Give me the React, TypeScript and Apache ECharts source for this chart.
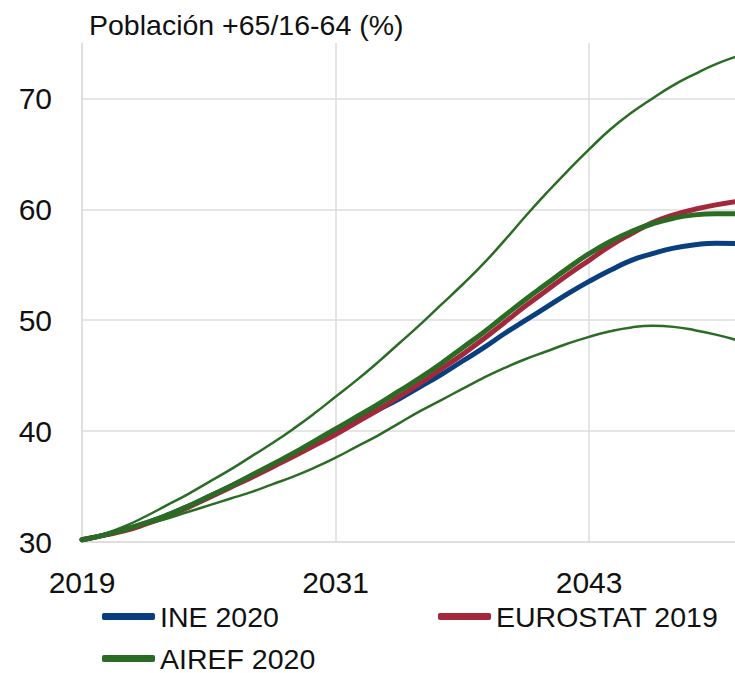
import React, { useEffect, useRef } from "react";
import * as echarts from "echarts";

const years = [
  "2019","2020","2021","2022","2023","2024","2025","2026","2027","2028","2029","2030","2031","2032","2033","2034",
  "2035","2036","2037","2038","2039","2040","2041","2042","2043","2044","2045","2046","2047","2048","2049","2050",
];

const ine2020 = [
  30.2, 30.6, 31.1, 31.7, 32.4, 33.2, 34.1, 35.0, 35.95, 36.9, 37.9, 38.9, 39.9, 40.9, 41.9, 42.9,
  44.0, 45.1, 46.3, 47.5, 48.8, 50.0, 51.2, 52.4, 53.5, 54.5, 55.4, 56.0, 56.5, 56.8, 56.95, 56.9,
];

const eurostat2019 = [
  30.2, 30.6, 31.0, 31.6, 32.3, 33.1, 34.0, 34.9, 35.8, 36.75, 37.7, 38.7, 39.7, 40.8, 41.9, 43.1,
  44.3, 45.6, 46.9, 48.3, 49.8, 51.3, 52.7, 54.1, 55.4, 56.7, 57.8, 58.8, 59.5, 60.0, 60.4, 60.7,
];

const airef2020 = [
  30.2, 30.6, 31.1, 31.7, 32.4, 33.2, 34.1, 35.0, 36.0, 37.0, 38.0, 39.1, 40.2, 41.3, 42.4, 43.6,
  44.8, 46.1, 47.5, 48.9, 50.4, 51.9, 53.3, 54.7, 56.0, 57.1, 58.0, 58.7, 59.2, 59.5, 59.6, 59.6,
];

const airefHigh = [
  30.2, 30.7, 31.4, 32.3, 33.3, 34.3, 35.4, 36.5, 37.7, 38.9, 40.2, 41.6, 43.1, 44.6, 46.2, 47.9,
  49.6, 51.4, 53.2, 55.1, 57.2, 59.4, 61.5, 63.5, 65.4, 67.2, 68.7, 70.0, 71.2, 72.2, 73.1, 73.8,
];

const airefLow = [
  30.2, 30.6, 31.1, 31.6, 32.1, 32.7, 33.3, 33.9, 34.5, 35.2, 35.9, 36.7, 37.6, 38.6, 39.6, 40.7,
  41.8, 42.8, 43.8, 44.8, 45.7, 46.5, 47.2, 47.9, 48.5, 49.0, 49.35, 49.5, 49.4, 49.1, 48.7, 48.2,
];

const titleText = "Población +65/16-64 (%)";

const BLUE = "#0A3F7F";
const RED = "#A4283B";
const GREEN = "#2A6C24";
const GRID = "#DCDCDC";
const FONT = "'Liberation Sans', Arial, sans-serif";

export default function App() {
  const ref = useRef<HTMLDivElement>(null);

  useEffect(() => {
    if (!ref.current) return;
    const chart = echarts.init(ref.current, null, { renderer: "svg" });
    const line = (name: string, data: number[], color: string, width: number, z: number) => ({
      name,
      type: "line",
      data,
      smooth: true,
      symbol: "none",
      z,
      lineStyle: { color, width, cap: "round", join: "round" },
      itemStyle: { color },
    });
    const legendBase = {
      orient: "horizontal",
      padding: 0,
      itemWidth: 53,
      itemHeight: 7,
      icon: "roundRect",
      textStyle: { fontSize: 28.5, color: "#111", fontFamily: FONT },
    };
    chart.setOption({
      animation: false,
      textStyle: { fontFamily: FONT },
      title: {
        text: titleText,
        left: 89,
        top: 10,
        padding: 0,
        textStyle: { fontSize: 28.5, fontWeight: "normal", color: "#111", fontFamily: FONT },
      },
      grid: { left: 82, top: 43, right: 3, bottom: 131, containLabel: false },
      legend: [
        { ...legendBase, data: ["INE 2020"], left: 102, top: 602 },
        { ...legendBase, data: ["EUROSTAT 2019"], left: 438, top: 602 },
        { ...legendBase, data: ["AIREF 2020"], left: 102, top: 644 },
      ],
      xAxis: {
        type: "category",
        data: years,
        boundaryGap: false,
        axisLine: { show: true, lineStyle: { color: GRID, width: 1.5 } },
        axisTick: { show: false },
        axisLabel: { interval: 11, fontSize: 30, color: "#111", margin: 25, fontFamily: FONT },
        splitLine: { show: true, interval: 11, lineStyle: { color: GRID, width: 1.5 } },
      },
      yAxis: {
        type: "value",
        min: 30,
        max: 75,
        interval: 10,
        axisLine: { show: true, lineStyle: { color: GRID, width: 1.5 } },
        axisTick: { show: false },
        axisLabel: {
          fontSize: 30,
          color: "#111",
          margin: 30,
          fontFamily: FONT,
          formatter: (v: number) => (v === 75 ? "" : String(v)),
        },
        splitLine: { show: true, showMaxLine: false, lineStyle: { color: GRID, width: 1.5 } },
      },
      series: [
        line("INE 2020", ine2020, BLUE, 5, 2),
        line("EUROSTAT 2019", eurostat2019, RED, 5, 3),
        line("AIREF 2020", airef2020, GREEN, 5, 4),
        line("AIREF 2020 alto", airefHigh, GREEN, 2.5, 5),
        line("AIREF 2020 bajo", airefLow, GREEN, 2.5, 5),
      ],
    });
    return () => chart.dispose();
  }, []);

  return (
    <div style={{ position: "absolute", left: 0, top: 0, width: 735, height: 673, overflow: "hidden", background: "#fff" }}>
      <div ref={ref} style={{ position: "absolute", left: 0, top: 0, width: 740, height: 673 }} />
    </div>
  );
}
